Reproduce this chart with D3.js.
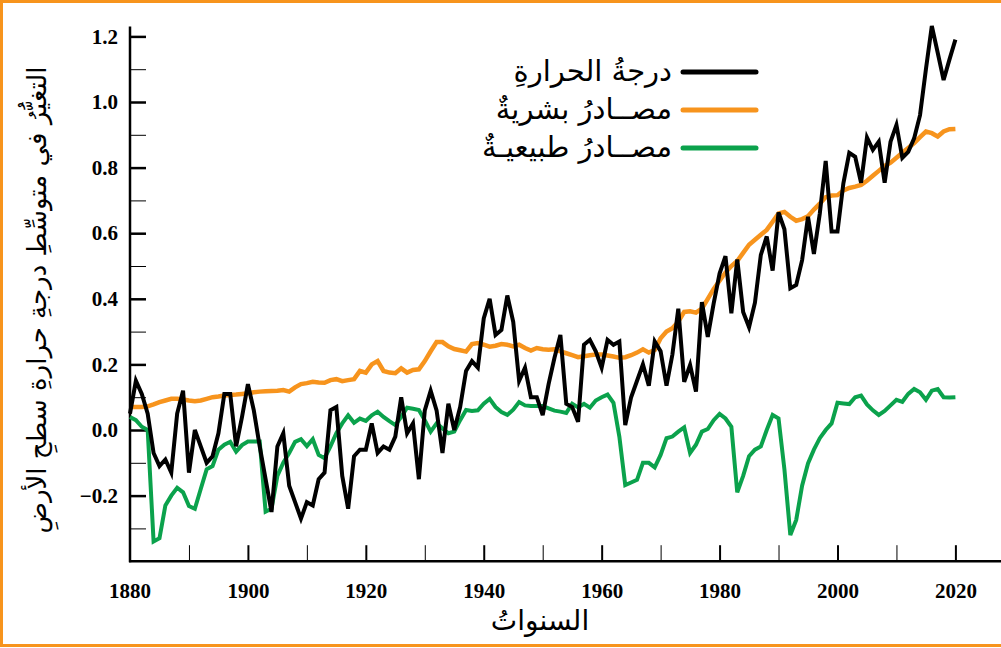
<!DOCTYPE html>
<html>
<head>
<meta charset="utf-8">
<script src="https://cdn.jsdelivr.net/npm/d3@7"></script>
<style>
    body { margin: 0; background: #fff; }
    svg { display: block; }
    .tick text, .tick-first { font-family: "Liberation Serif", "Times New Roman", serif; font-weight: bold; font-size: 21px; fill: #000; }
    .ar { font-family: "DejaVu Sans", "Noto Sans", sans-serif; fill: #000; }
</style>
</head>
<body>
<svg id="chart" width="1001" height="648"></svg>
<script>
// data, one value per year 1880..2020
var firstYear = 1880,
    lastYear = 2020;

var temperature = [
    0.05, 0.15, 0.11, 0.05, -0.07, -0.11, -0.09, -0.13, 0.05, 0.12,
    -0.13, 0.00, -0.05, -0.10, -0.08, -0.01, 0.11, 0.11, -0.05, 0.04,
    0.14, 0.06, -0.05, -0.15, -0.25, -0.05, -0.01, -0.17, -0.22, -0.27,
    -0.22, -0.23, -0.15, -0.13, 0.06, 0.07, -0.14, -0.24, -0.08, -0.06,
    -0.06, 0.02, -0.07, -0.05, -0.06, -0.02, 0.10, -0.01, 0.02, -0.15,
    0.06, 0.12, 0.06, -0.07, 0.08, 0.00, 0.07, 0.18, 0.21, 0.19,
    0.34, 0.40, 0.29, 0.305, 0.41, 0.33, 0.15, 0.19, 0.10, 0.10,
    0.045, 0.14, 0.22, 0.29, 0.08, 0.07, 0.025, 0.26, 0.275, 0.24,
    0.19, 0.275, 0.26, 0.27, 0.015, 0.10, 0.15, 0.20, 0.135, 0.27,
    0.24, 0.135, 0.23, 0.37, 0.147, 0.198, 0.117, 0.39, 0.284, 0.386,
    0.477, 0.53, 0.356, 0.52, 0.36, 0.313, 0.388, 0.534, 0.59, 0.486,
    0.663, 0.612, 0.432, 0.442, 0.518, 0.65, 0.537, 0.66, 0.82, 0.605,
    0.605, 0.752, 0.845, 0.833, 0.754, 0.892, 0.854, 0.879, 0.754, 0.879,
    0.93, 0.83, 0.848, 0.889, 0.96, 1.10, 1.232, 1.15, 1.067, 1.13,
    1.19
];

var human = [
    0.07, 0.07, 0.07, 0.072, 0.078, 0.085, 0.09, 0.095, 0.095, 0.093,
    0.09, 0.088, 0.09, 0.095, 0.10, 0.102, 0.105, 0.107, 0.108, 0.11,
    0.112, 0.115, 0.117, 0.118, 0.119, 0.12, 0.122, 0.117, 0.13, 0.14,
    0.143, 0.147, 0.145, 0.144, 0.152, 0.155, 0.149, 0.152, 0.155, 0.18,
    0.175, 0.20, 0.21, 0.18, 0.175, 0.173, 0.188, 0.175, 0.183, 0.185,
    0.21, 0.24, 0.268, 0.268, 0.255, 0.247, 0.243, 0.239, 0.262, 0.265,
    0.26, 0.254, 0.257, 0.262, 0.26, 0.255, 0.26, 0.25, 0.242, 0.25,
    0.246, 0.245, 0.246, 0.24, 0.234, 0.228, 0.222, 0.225, 0.228, 0.23,
    0.23, 0.227, 0.224, 0.22, 0.222, 0.228, 0.236, 0.246, 0.236, 0.244,
    0.28, 0.30, 0.31, 0.33, 0.36, 0.362, 0.358, 0.37, 0.40, 0.43,
    0.455, 0.48, 0.50, 0.515, 0.54, 0.565, 0.58, 0.595, 0.61, 0.635,
    0.66, 0.665, 0.65, 0.638, 0.643, 0.652, 0.672, 0.69, 0.71, 0.715,
    0.716, 0.73, 0.738, 0.742, 0.747, 0.76, 0.775, 0.79, 0.805, 0.815,
    0.83, 0.845, 0.86, 0.875, 0.893, 0.91, 0.905, 0.895, 0.91, 0.917,
    0.918
];

var natural = [
    0.04, 0.03, 0.01, 0.00, -0.34, -0.33, -0.23, -0.20, -0.176, -0.19,
    -0.232, -0.24, -0.18, -0.12, -0.11, -0.06, -0.045, -0.036, -0.066, -0.046,
    -0.035, -0.035, -0.035, -0.249, -0.24, -0.14, -0.10, -0.07, -0.036, -0.028,
    -0.049, -0.028, -0.076, -0.086, -0.05, -0.01, 0.02, 0.045, 0.022, 0.035,
    0.028, 0.045, 0.056, 0.04, 0.027, 0.015, 0.04, 0.068, 0.065, 0.061,
    0.03, -0.005, 0.02, 0.005, -0.01, -0.005, 0.03, 0.061, 0.058, 0.06,
    0.08, 0.095, 0.07, 0.055, 0.046, 0.062, 0.085, 0.075, 0.073, 0.073,
    0.073, 0.066, 0.059, 0.056, 0.052, 0.08, 0.069, 0.08, 0.068, 0.09,
    0.10, 0.108, 0.083, -0.02, -0.168, -0.16, -0.152, -0.10, -0.10, -0.114,
    -0.076, -0.025, -0.02, -0.005, 0.008, -0.07, -0.045, -0.005, 0.003, 0.03,
    0.049, 0.035, 0.01, -0.19, -0.14, -0.08, -0.06, -0.05, 0.00, 0.046,
    0.035, -0.12, -0.32, -0.274, -0.17, -0.102, -0.06, -0.025, 0.00, 0.02,
    0.083, 0.081, 0.079, 0.10, 0.105, 0.078, 0.06, 0.046, 0.058, 0.075,
    0.092, 0.086, 0.11, 0.125, 0.115, 0.092, 0.12, 0.125, 0.10, 0.099,
    0.10
];

var yTicks = [-0.3, -0.2, -0.1, 0.0, 0.1, 0.2, 0.3, 0.4, 0.5, 0.6, 0.7, 0.8, 0.9, 1.0, 1.1, 1.2];
var xTicks = [1890, 1900, 1910, 1920, 1930, 1940, 1950, 1960, 1970, 1980, 1990, 2000, 2010, 2020];

var legendNames = ["درجةُ الحرارةِ", "مصــادرُ بشريةٌ", "مصــادرُ طبيعيـةٌ"];
var yTitle = "التغيُّرُ في متوسِّطِ درجةِ حرارةِ سطحِ الأرضِ";
var xTitle = "السنواتُ";

(function () {
    'use strict';
    var svg = d3.select("#chart"),
        colors = ["#000000", "#f7941d", "#0ba24c"],
        widths = [4, 4.5, 4],
        years = d3.range(firstYear, lastYear + 1),
        x = d3.scaleLinear().domain([1880, 2020]).range([130, 955.4]),
        y = d3.scaleLinear().domain([-0.4, 1.2]).range([561.2, 36.4]);

    // orange frame round the picture
    svg.append("rect")
        .attr("x", 1.5).attr("y", 1.5)
        .attr("width", 1010).attr("height", 644)
        .attr("fill", "none")
        .attr("stroke", "#f7941d")
        .attr("stroke-width", 3);

    // y axis, ticks pointing inward
    var yAxis = svg.append("g")
        .attr("transform", "translate(" + x(1880) + ",0)")
        .call(d3.axisLeft(y)
            .tickValues(yTicks)
            .tickSizeInner(-16)
            .tickSizeOuter(0)
            .tickPadding(12)
            .tickFormat(function (d) {
                var k = Math.round(d * 10);
                if (k % 2 !== 0) { return ""; }
                return (d < 0 ? "\u2212" : "") + Math.abs(d).toFixed(1);
            }));
    yAxis.select(".domain").remove();
    yAxis.selectAll(".tick line")
        .attr("stroke", "#000")
        .attr("stroke-width", function (d) { return Math.round(d * 10) % 2 === 0 ? 2.5 : 1; });

    // x axis
    var xAxis = svg.append("g")
        .attr("transform", "translate(0," + y(-0.4) + ")")
        .call(d3.axisBottom(x)
            .tickValues(xTicks)
            .tickSizeInner(-16)
            .tickSizeOuter(0)
            .tickPadding(22)
            .tickFormat(function (d) { return d % 20 === 0 ? d : ""; }));
    xAxis.select(".domain").remove();
    xAxis.selectAll(".tick line")
        .attr("stroke", "#000")
        .attr("stroke-width", function (d) { return d % 20 === 0 ? 2 : 1; });
    // 1880 label sits under the corner
    xAxis.append("text")
        .attr("class", "tick-first")
        .attr("x", x(1880)).attr("y", 22)
        .attr("text-anchor", "middle")
        .attr("dy", "0.71em")
        .text("1880");

    // axis lines
    svg.append("line")
        .attr("x1", x(1880)).attr("x2", x(1880))
        .attr("y1", y(1.23)).attr("y2", y(-0.4) + 1)
        .attr("stroke", "#000").attr("stroke-width", 2.5);
    svg.append("line")
        .attr("x1", x(1880) - 1).attr("x2", 1001)
        .attr("y1", y(-0.4)).attr("y2", y(-0.4))
        .attr("stroke", "#000").attr("stroke-width", 2.5);

    // series: natural, human, then temperature on top
    var line = d3.line()
        .x(function (d) { return x(d[0]); })
        .y(function (d) { return y(d[1]); });
    [natural, human, temperature].forEach(function (vals, i) {
        var s = 2 - i;
        svg.append("path")
            .datum(years.map(function (yr, j) { return [yr, vals[j]]; }))
            .attr("fill", "none")
            .attr("stroke", colors[s])
            .attr("stroke-width", widths[s])
            .attr("stroke-linejoin", "miter")
            .attr("d", line);
    });

    // legend
    var legend = svg.append("g");
    legendNames.forEach(function (name, i) {
        var ly = 72 + i * 38;
        legend.append("line")
            .attr("x1", 683).attr("x2", 756)
            .attr("y1", ly).attr("y2", ly)
            .attr("stroke", colors[i])
            .attr("stroke-width", 5)
            .attr("stroke-linecap", "round");
        legend.append("text")
            .attr("class", "ar")
            .attr("x", 672).attr("y", ly + 9)
            .attr("text-anchor", "end")
            .style("font-size", "29px")
            .text(name);
    });

    // titles
    svg.append("text")
        .attr("class", "ar")
        .attr("transform", "translate(46,300) rotate(-90)")
        .attr("text-anchor", "middle")
        .style("font-size", "26px")
        .text(yTitle);
    svg.append("text")
        .attr("class", "ar")
        .attr("x", 540).attr("y", 630)
        .attr("text-anchor", "middle")
        .style("font-size", "28px")
        .text(xTitle);
}());
</script>
</body>
</html>
